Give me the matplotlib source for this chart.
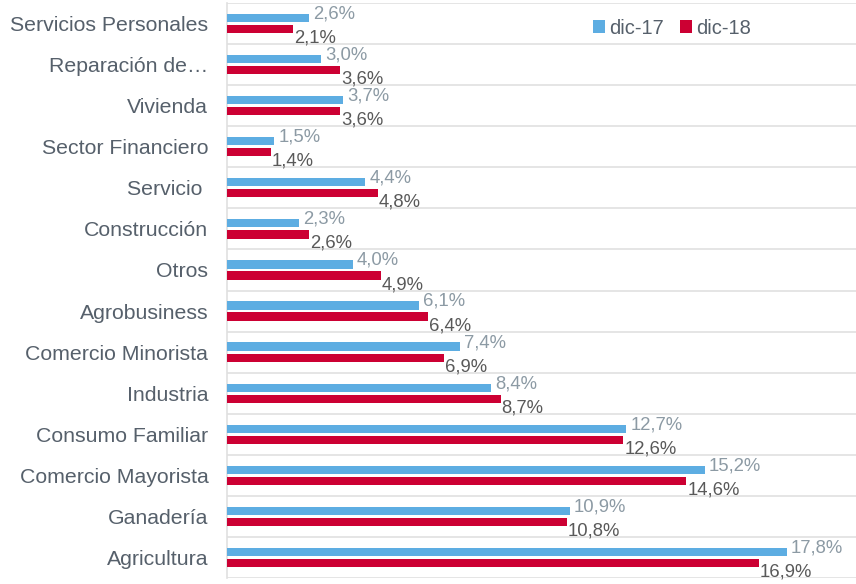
import numpy as np
import matplotlib.pyplot as plt

plt.rcParams['font.family'] = ['Liberation Sans', 'DejaVu Sans']

categorias = ['Servicios Personales', 'Reparación de…', 'Vivienda', 'Sector Financiero',
              'Servicio ', 'Construcción', 'Otros', 'Agrobusiness', 'Comercio Minorista',
              'Industria', 'Consumo Familiar', 'Comercio Mayorista', 'Ganadería', 'Agricultura']
dic17 = [2.6, 3.0, 3.7, 1.5, 4.4, 2.3, 4.0, 6.1, 7.4, 8.4, 12.7, 15.2, 10.9, 17.8]
dic18 = [2.1, 3.6, 3.6, 1.4, 4.8, 2.6, 4.9, 6.4, 6.9, 8.7, 12.6, 14.6, 10.8, 16.9]

azul = '#5DADE2'
rojo = '#CC0033'
gris_lbl = '#8C9AA4'
gris_osc = '#595959'
gris_cat = '#56606B'

fig = plt.figure(figsize=(8.56, 5.84), dpi=100)
ax = fig.add_axes([227/856, 6/584, 1 - 227/856, 575/584])

y = np.arange(len(categorias))
off = 0.135
h = 0.2
ax.barh(y - off, dic17, height=h, color=azul, label='dic-17', zorder=3)
ax.barh(y + off, dic18, height=h, color=rojo, label='dic-18', zorder=3)

def fmt(v):
    return ('%.1f%%' % v).replace('.', ',')

for yi, v in zip(y, dic17):
    ax.annotate(fmt(v), (v, yi - off), xytext=(4, 4), textcoords='offset pixels',
                ha='left', va='center', fontsize=13.3, color=gris_lbl)
for yi, v in zip(y, dic18):
    ax.annotate(fmt(v), (v, yi + off), xytext=(1, -9), textcoords='offset pixels',
                ha='left', va='center', fontsize=13.3, color=gris_osc)

ax.set_xlim(0, 20)
ax.set_ylim(len(categorias) - 0.5, -0.5)
ax.set_yticks(y)
ax.set_yticklabels(categorias, fontsize=15.3, color=gris_cat)
ax.tick_params(axis='y', length=0, pad=13.5)
ax.set_xticks([])
for b in np.arange(-0.5, len(categorias), 1.0):
    ax.axhline(b, color='#E0E0E0', lw=1.2, zorder=1)
for s in ['top', 'right', 'bottom']:
    ax.spines[s].set_visible(False)
ax.spines['left'].set_color('#E0E0E0')
ax.spines['left'].set_linewidth(1.2)

leg = fig.legend(loc='center left', bbox_to_anchor=(585/856, 1 - 28/584), ncol=2,
                 frameon=False, fontsize=14.5, handlelength=0.6, handleheight=0.6,
                 handletextpad=0.2, columnspacing=0.8, borderaxespad=0)
for t in leg.get_texts():
    t.set_color(gris_cat)

fig.savefig('out.png', dpi=100)
